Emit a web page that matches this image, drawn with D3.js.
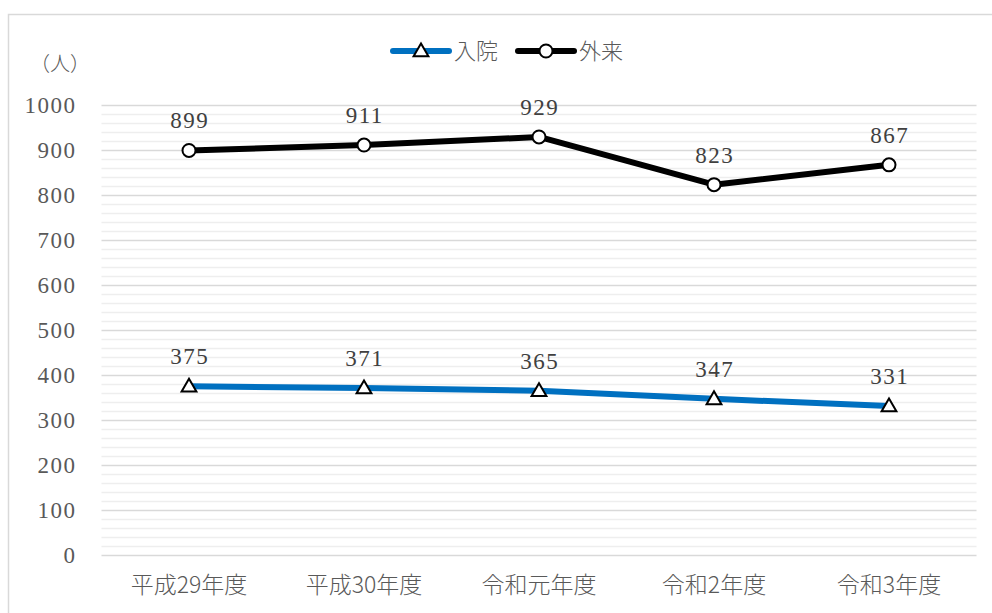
<!DOCTYPE html>
<html lang="ja">
<head>
<meta charset="utf-8">
<script src="https://cdn.jsdelivr.net/npm/d3@7"></script>
<style>
  html, body { margin: 0; padding: 0; background: #fff; }
  svg { display: block; }
  .num { font-family: "Liberation Serif", "Times New Roman", "DejaVu Serif", serif; }
</style>
</head>
<body>
<svg id="chart" width="992" height="613"></svg>
<script>
// Patients per fiscal year: inpatients (入院) and outpatients (外来)
const categories = ["平成29年度", "平成30年度", "令和元年度", "令和2年度", "令和3年度"];
const inpatient  = [375, 371, 365, 347, 331];
const outpatient = [899, 911, 929, 823, 867];
const yTicks = [0, 100, 200, 300, 400, 500, 600, 700, 800, 900, 1000];
const seriesNames = ["入院", "外来"];
const unitLabel = "（人）";

const W = 992, H = 613;
const margin = { left: 101.5, right: 15.5, top: 105, bottom: 58 };
const svg = d3.select("#chart");

const jpFont = "'Noto Sans CJK JP', 'Noto Sans', sans-serif";
const textColor = "#595959";

// chart frame
svg.append("rect")
  .attr("x", 8.5).attr("y", 14.5)
  .attr("width", W + 20).attr("height", H + 20)
  .attr("fill", "#fff")
  .attr("stroke", "#d9d9d9").attr("stroke-width", 1.5);

const x = d3.scaleBand()
  .domain(categories)
  .range([margin.left, W - margin.right])
  .paddingInner(0).paddingOuter(0);

const y = d3.scaleLinear()
  .domain([0, 1000])
  .range([H - margin.bottom, margin.top]);

const cx = d => x(d) + x.bandwidth() / 2;

// minor gridlines every 20
const minor = d3.range(0, 1001, 20).filter(v => v % 100 !== 0);
svg.append("g").selectAll("line").data(minor).join("line")
  .attr("x1", margin.left).attr("x2", W - margin.right)
  .attr("y1", d => Math.round(y(d)) + 0.5).attr("y2", d => Math.round(y(d)) + 0.5)
  .attr("stroke", "#eeeeee").attr("stroke-width", 1.5);

// major gridlines + y axis labels
const yAxis = d3.axisLeft(y).tickValues(yTicks).tickFormat(d3.format("d"))
  .tickSize(-(W - margin.left - margin.right)).tickPadding(25);
const gy = svg.append("g")
  .attr("transform", `translate(${margin.left},0)`)
  .call(yAxis)
  .attr("font-family", null);
gy.select(".domain").remove();
gy.selectAll(".tick line").attr("stroke", "#d9d9d9").attr("stroke-width", 1.5);
gy.selectAll(".tick text")
  .attr("class", "num")
  .attr("fill", textColor)
  .style("font-size", "23px")
  .style("letter-spacing", "1.5px");

// x axis labels
const xAxis = d3.axisBottom(x).tickSize(0).tickPadding(22);
const gx = svg.append("g")
  .attr("transform", `translate(0,${y(0)})`)
  .call(xAxis);
gx.select(".domain").remove();
gx.selectAll(".tick text")
  .attr("fill", textColor)
  .style("font-family", jpFont).style("font-size", "23px").style("font-weight", "300");

// unit label
svg.append("text")
  .attr("x", 30).attr("y", 71)
  .attr("fill", textColor)
  .style("font-family", jpFont).style("font-size", "20px").style("font-weight", "300")
  .text(unitLabel);

const line = d3.line().x(d => cx(d.c)).y(d => y(d.v));
const mk = arr => categories.map((c, i) => ({ c, v: arr[i] }));

const inData = mk(inpatient);
const outData = mk(outpatient);

// series lines
svg.append("path").datum(outData)
  .attr("d", line).attr("fill", "none")
  .attr("stroke", "#000").attr("stroke-width", 6)
  .attr("stroke-linejoin", "round").attr("stroke-linecap", "round");
svg.append("path").datum(inData)
  .attr("d", line).attr("fill", "none")
  .attr("stroke", "#0070c0").attr("stroke-width", 6)
  .attr("stroke-linejoin", "round").attr("stroke-linecap", "round");

// markers
const tri = d3.symbol().type(d3.symbolTriangle).size(95);
svg.append("g").selectAll("path").data(inData).join("path")
  .attr("d", tri)
  .attr("transform", d => `translate(${cx(d.c)},${y(d.v) + 1})`)
  .attr("fill", "#fff").attr("stroke", "#000").attr("stroke-width", 2);
svg.append("g").selectAll("circle").data(outData).join("circle")
  .attr("cx", d => cx(d.c)).attr("cy", d => y(d.v)).attr("r", 6.5)
  .attr("fill", "#fff").attr("stroke", "#000").attr("stroke-width", 2);

// data labels
const labels = (data) => svg.append("g").selectAll("text").data(data).join("text")
  .attr("class", "num")
  .attr("x", d => cx(d.c) + 0.75).attr("y", d => y(d.v) - 22)
  .attr("text-anchor", "middle")
  .attr("fill", "#404040")
  .style("font-size", "23px")
  .style("letter-spacing", "1.5px")
  .text(d => d.v);
labels(outData);
labels(inData);

// legend
const lg = svg.append("g");
const legendItems = [
  { name: seriesNames[0], color: "#0070c0", x0: 393, marker: "tri" },
  { name: seriesNames[1], color: "#000", x0: 518, marker: "circle" }
];
const ly = 51;
legendItems.forEach(it => {
  lg.append("line")
    .attr("x1", it.x0).attr("x2", it.x0 + 56)
    .attr("y1", ly).attr("y2", ly)
    .attr("stroke", it.color).attr("stroke-width", 6).attr("stroke-linecap", "round");
  if (it.marker === "tri") {
    lg.append("path").attr("d", tri)
      .attr("transform", `translate(${it.x0 + 28},${ly + 1})`)
      .attr("fill", "#fff").attr("stroke", "#000").attr("stroke-width", 2);
  } else {
    lg.append("circle").attr("cx", it.x0 + 28).attr("cy", ly).attr("r", 6.5)
      .attr("fill", "#fff").attr("stroke", "#000").attr("stroke-width", 2);
  }
  lg.append("text")
    .attr("x", it.x0 + 61).attr("y", ly + 8)
    .attr("fill", textColor)
    .style("font-family", jpFont).style("font-size", "22px").style("font-weight", "300")
    .text(it.name);
});
</script>
</body>
</html>
